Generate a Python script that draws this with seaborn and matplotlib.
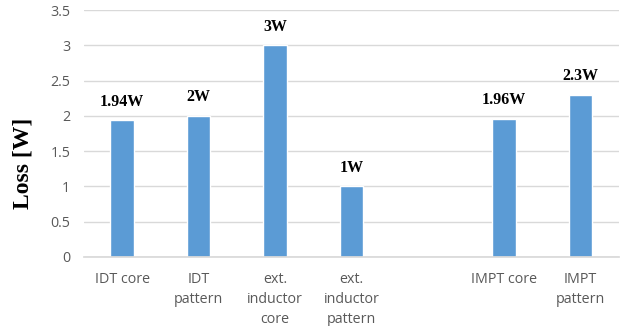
import matplotlib
matplotlib.use("Agg")
import matplotlib.pyplot as plt
import seaborn as sns
import pandas as pd

# Loss per component; the blank slot separates the IMPT group
categories = ["IDT core", "IDT\npattern", "ext.\ninductor\ncore", "ext.\ninductor\npattern",
              "IMPT core", "IMPT\npattern"]
losses = [1.94, 2.0, 3.0, 1.0, 1.96, 2.3]
value_labels = ["1.94W", "2W", "3W", "1W", "1.96W", "2.3W"]
axis_order = categories[:4] + [" "] + categories[4:]
y_ticks = [0, 0.5, 1, 1.5, 2, 2.5, 3, 3.5]
y_tick_labels = ["0", "0.5", "1", "1.5", "2", "2.5", "3", "3.5"]

sns.set_theme(style="white")
plt.rcParams["font.family"] = ["Open Sans", "DejaVu Sans"]

df = pd.DataFrame({"part": categories, "loss": losses})

fig = plt.figure(figsize=(6.24, 3.26), dpi=100)
ax = fig.add_axes([0.1346, 0.2117, 0.857, 0.757])

sns.barplot(data=df, x="part", y="loss", order=axis_order, color="#5B9BD5",
            saturation=1, width=0.31, ax=ax)

ax.set_ylim(0, 3.5)
ax.set_xlim(-0.5, len(axis_order) - 0.5)
ax.set_yticks(y_ticks)
ax.set_yticklabels(y_tick_labels)
ax.yaxis.grid(True, color="#D9D9D9", linewidth=1)
ax.set_axisbelow(True)
for side in ["left", "right", "top"]:
    ax.spines[side].set_visible(False)
ax.spines["bottom"].set_color("#D9D9D9")
ax.tick_params(axis="both", length=0, colors="#595959", labelsize=10.3)
ax.tick_params(axis="x", pad=11)
ax.tick_params(axis="y", pad=10)
for lbl in ax.get_xticklabels():
    lbl.set_linespacing(1.45)
    lbl.set_verticalalignment("top")
ax.set_xlabel("")
ax.set_ylabel("")

for bar, txt in zip([p for p in ax.patches if p.get_height() > 0], value_labels):
    ax.annotate(txt, (bar.get_x() + bar.get_width() / 2, bar.get_height()),
                xytext=(0, 10.5), textcoords="offset points", ha="center", va="baseline",
                fontsize=11.5, fontweight="bold", family="Liberation Serif", color="black")

fig.text(0.037, 0.50, "Loss [W]", rotation=90, ha="center", va="center",
         fontsize=17, fontweight="bold", family="Liberation Serif", color="black")

fig.savefig("out.png", dpi=100, facecolor="white")
